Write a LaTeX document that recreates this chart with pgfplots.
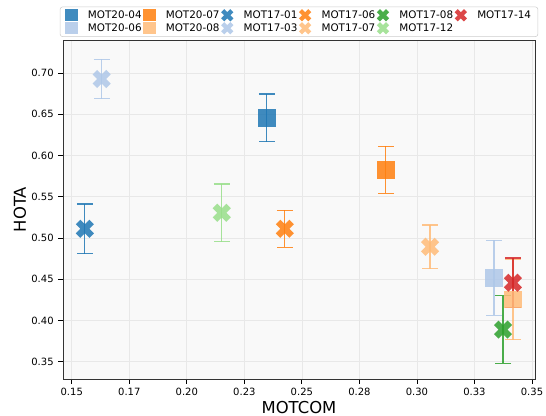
\documentclass[border=0pt]{standalone}
\usepackage{pgfplots}
\pgfplotsset{compat=1.18}
\usepackage{fontspec}
\setmainfont{DejaVu Sans}
\definecolor{c1}{HTML}{1F77B4}
\definecolor{c2}{HTML}{AEC7E8}
\definecolor{c3}{HTML}{FF7F0E}
\definecolor{c4}{HTML}{FFBB78}
\definecolor{c5}{HTML}{2CA02C}
\definecolor{c6}{HTML}{98DF8A}
\definecolor{c7}{HTML}{D62728}
\pgfdeclareplotmark{X}{%
  \pgfpathmoveto{\pgfpoint{-0.5\pgfplotmarksize}{-\pgfplotmarksize}}%
  \pgfpathlineto{\pgfpoint{0pt}{-0.5\pgfplotmarksize}}%
  \pgfpathlineto{\pgfpoint{0.5\pgfplotmarksize}{-\pgfplotmarksize}}%
  \pgfpathlineto{\pgfpoint{\pgfplotmarksize}{-0.5\pgfplotmarksize}}%
  \pgfpathlineto{\pgfpoint{0.5\pgfplotmarksize}{0pt}}%
  \pgfpathlineto{\pgfpoint{\pgfplotmarksize}{0.5\pgfplotmarksize}}%
  \pgfpathlineto{\pgfpoint{0.5\pgfplotmarksize}{\pgfplotmarksize}}%
  \pgfpathlineto{\pgfpoint{0pt}{0.5\pgfplotmarksize}}%
  \pgfpathlineto{\pgfpoint{-0.5\pgfplotmarksize}{\pgfplotmarksize}}%
  \pgfpathlineto{\pgfpoint{-\pgfplotmarksize}{0.5\pgfplotmarksize}}%
  \pgfpathlineto{\pgfpoint{-0.5\pgfplotmarksize}{0pt}}%
  \pgfpathlineto{\pgfpoint{-\pgfplotmarksize}{-0.5\pgfplotmarksize}}%
  \pgfpathclose\pgfusepathqfill}
\pgfplotsset{
  sq/.style={forget plot, only marks, mark=square*, mark size=6.6pt, mark options={draw opacity=0, fill=#1, fill opacity=0.85},
    color=#1, error bars/.cd, y dir=both, y explicit,
    error bar style={line width=0.9pt, #1, opacity=0.85, solid},
    error mark options={mark size=6pt, line width=0.9pt, #1, opacity=0.85, rotate=90, solid}},
  xm/.style={forget plot, only marks, mark=X, mark size=6.8pt, mark options={fill=#1, fill opacity=0.85},
    color=#1, error bars/.cd, y dir=both, y explicit,
    error bar style={line width=0.9pt, #1, opacity=0.85, solid},
    error mark options={mark size=6pt, line width=0.9pt, #1, opacity=0.85, rotate=90, solid}},
  lsq/.style={only marks, mark=square*, mark size=4.6pt, mark options={draw opacity=0, fill=#1, fill opacity=0.85}},
  lxm/.style={only marks, mark=X, mark size=4.6pt, mark options={fill=#1, fill opacity=0.85, draw opacity=0}},
}
\begin{document}
\begin{tikzpicture}
\useasboundingbox (-47.25pt,-27.75pt) rectangle (362.25pt,284.25pt);
\begin{axis}[
  at={(0,0)}, anchor=south west,
  scale only axis, width=354pt, height=254.25pt,
  xmin=0.1462, xmax=0.3513, ymin=0.329, ymax=0.740,
  axis background/.style={fill=black!2.5},
  axis line style={black!80, line width=0.6pt},
  grid=major, grid style={black!9, line width=0.5pt},
  tick align=outside, tick pos=left,
  major tick length=3.5pt, tick style={black, line width=0.6pt},
  xtick={0.15,0.175,0.2,0.225,0.25,0.275,0.3,0.325,0.35},
  xticklabels={0.15,0.17,0.20,0.23,0.25,0.28,0.30,0.33,0.35},
  ytick={0.35,0.40,0.45,0.50,0.55,0.60,0.65,0.70},
  yticklabel style={/pgf/number format/.cd, fixed, fixed zerofill, precision=2},
  /pgf/number format/assume math mode=true,
  ticklabel style={font=\fontsize{7.5}{9}\selectfont},
  xlabel={MOTCOM}, ylabel={HOTA},
  label style={font=\fontsize{12.3}{14}\selectfont},
  xlabel style={yshift=3pt}, ylabel style={yshift=-3pt},
  legend columns=6,
  legend style={at={(0.5,1.009)}, anchor=south, draw=black!20, rounded corners=2pt,
    font=\fontsize{7.8}{9}\selectfont, inner xsep=4pt, inner ysep=1.5pt,
    /tikz/every odd column/.append style={column sep=6.5pt},
    /tikz/every even column/.append style={column sep=0pt},
    nodes={inner sep=1.2pt}},
  legend cell align=left,
]
\addplot[sq=c1] coordinates {(0.2348,0.6455) +- (0,0.029)};
\addplot[sq=c3] coordinates {(0.2865,0.5826) +- (0,0.0285)};
\addplot[xm=c1] coordinates {(0.1557,0.5111) +- (0,0.030)};
\addplot[xm=c3] coordinates {(0.2426,0.5111) +- (0,0.0225)};
\addplot[xm=c5] coordinates {(0.3374,0.3889) +- (0,0.041)};
\addplot[sq=c4] coordinates {(0.3417,0.4252) +- (0,0.0485)};
\addplot[xm=c7] coordinates {(0.3417,0.4457) +- (0,0.030)};
\addplot[sq=c2] coordinates {(0.3335,0.4518) +- (0,0.0455)};
\addplot[xm=c2] coordinates {(0.1630,0.6927) +- (0,0.024)};
\addplot[xm=c4] coordinates {(0.3057,0.4893) +- (0,0.0265)};
\addplot[xm=c6] coordinates {(0.2152,0.5305) +- (0,0.035)};
\addlegendimage{lsq=c1}\addlegendentry{MOT20-04}
\addlegendimage{lsq=c3}\addlegendentry{MOT20-07}
\addlegendimage{lxm=c1}\addlegendentry{MOT17-01}
\addlegendimage{lxm=c3}\addlegendentry{MOT17-06}
\addlegendimage{lxm=c5}\addlegendentry{MOT17-08}
\addlegendimage{lxm=c7}\addlegendentry{MOT17-14}
\addlegendimage{lsq=c2}\addlegendentry{MOT20-06}
\addlegendimage{lsq=c4}\addlegendentry{MOT20-08}
\addlegendimage{lxm=c2}\addlegendentry{MOT17-03}
\addlegendimage{lxm=c4}\addlegendentry{MOT17-07}
\addlegendimage{lxm=c6}\addlegendentry{MOT17-12}
\end{axis}
\end{tikzpicture}
\end{document}
